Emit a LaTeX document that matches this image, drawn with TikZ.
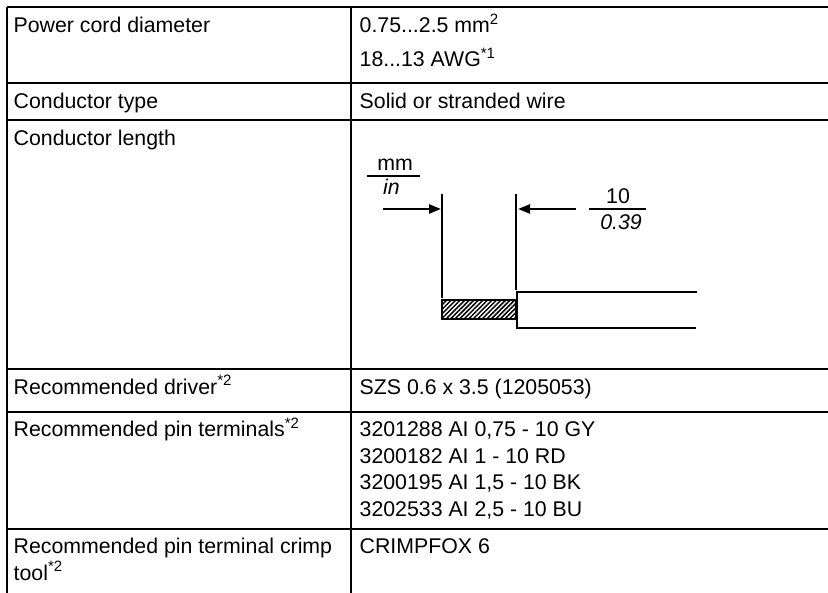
\documentclass[tikz,border=0pt]{standalone}
\usepackage{fontspec}
\setmainfont{Liberation Sans}
\usetikzlibrary{calc}
\usetikzlibrary{arrows.meta}
\usetikzlibrary{patterns.meta}
\newcommand{\supr}[1]{\raisebox{0.4em}{\fontsize{15}{15}\selectfont #1}}

\begin{document}
\begin{tikzpicture}[x=1pt,y=-1pt,
        cell/.style={anchor=base west,inner sep=0pt,font=\fontsize{21.3}{26}\selectfont},
        grid/.style={line width=1.3pt},
        wire/.style={line width=2.4pt},
        dim/.style={line width=2.4pt,-{Triangle[length=12pt,width=9pt]}},
        frac/.style={line width=1.2pt}]
            \useasboundingbox (0,0) rectangle (828,593);
            \coordinate (A) at (7,7);
            \coordinate (B) at (828,7);
            \coordinate (M) at (351,7);
            \draw[grid] (A) -- (B);
            \draw[grid] (7,83) -- (828,83) (7,120) -- (828,120) (7,369) -- (828,369);
            \draw[grid] (7,412) -- (828,412) (7,529) -- (828,529);
            \draw[grid] (A) -- (7,593) (M) -- (351,593);
            \node[cell] (pcd) at (13.5,33) {Power cord diameter};
            \node[cell] (pcd1) at (359.5,33) {0.75...2.5 mm\supr{2}};
            \node[cell] (pcd2) at (359.5,67) {18...13 AWG\supr{*1}};
            \node[cell] (ctype) at (13.5,108.5) {Conductor type};
            \node[cell] (ctype1) at (359.5,108.5) {Solid or stranded wire};
            \node[cell] (clen) at (13.5,145.5) {Conductor length};
            \node[cell] (drv) at (13.5,394.5) {Recommended driver\supr{*2}};
            \node[cell] (drv1) at (359.5,394.5) {SZS 0.6 x 3.5 (1205053)};
            \node[cell] (pin) at (13.5,437) {Recommended pin terminals\supr{*2}};
            \node[cell] (pin1) at (359.5,437) {3201288 AI 0,75 - 10 GY};
            \node[cell] (pin2) at (359.5,463.5) {3200182 AI 1 - 10 RD};
            \node[cell] (pin3) at (359.5,490) {3200195 AI 1,5 - 10 BK};
            \node[cell] (pin4) at (359.5,516.5) {3202533 AI 2,5 - 10 BU};
            \node[cell] (crp) at (13.5,554) {Recommended pin terminal crimp};
            \node[cell] (crp2) at (13.5,580.5) {tool\supr{*2}};
            \node[cell] (crp1) at (359.5,554) {CRIMPFOX 6};
            \coordinate (C) at (442,194);
            \coordinate (D) at (442,298);
            \coordinate (E) at (516,194);
            \coordinate (F) at (516,290);
            \coordinate (G) at (697,292);
            \coordinate (H) at (696,328);
            \draw[wire] (C) -- (D);
            \draw[wire] (E) -- (F);
            \draw[wire,pattern={Lines[angle=45,distance=3.2pt,line width=1.5pt]}] (442,300) rectangle (516,319);
            \draw[wire] (G) -- (517,292) -- (517,328) -- (H);
            \draw[dim] (383,209) -- ($(C)+(-1,15)$);
            \draw[dim] (576,209) -- ($(E)+(2,15)$);
            \draw[frac] (367,176) -- (420,176);
            \node[cell,anchor=base] (mm) at (395,170.5) {mm};
            \node[cell,anchor=base] (in) at (391.5,195) {\itshape in};
            \draw[frac] (589,209) -- (646,209);
            \node[cell,anchor=base] (ten) at (618,203.5) {10};
            \node[cell,anchor=base] (dec) at (621,229.5) {\itshape 0.39};
\end{tikzpicture}
\end{document}
